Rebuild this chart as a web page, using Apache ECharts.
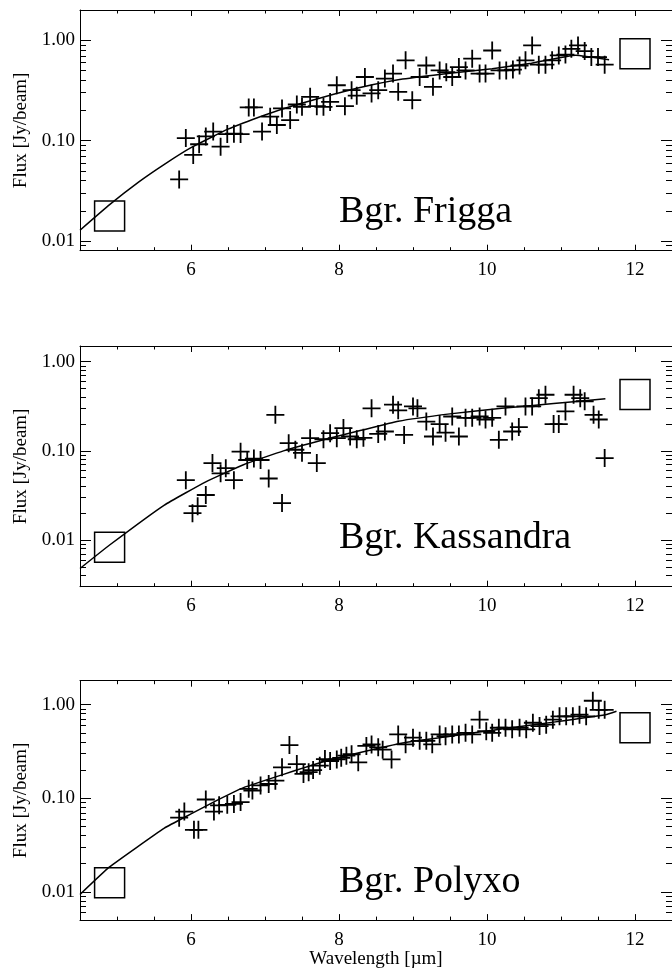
<!DOCTYPE html>
<html>
<head>
<meta charset="utf-8">
<script src="https://cdn.jsdelivr.net/npm/echarts@6/dist/echarts.min.js"></script>
<style>
html,body{margin:0;padding:0;background:#fff;}
#chart{width:672px;height:970px;}
</style>
</head>
<body>
<div id="chart"></div>
<script>
// ---------- DATA ----------
const xMajorTicks = [6, 8, 10, 12];
const xMinorTicks = [5, 5.5, 6.5, 7, 7.5, 8.5, 9, 9.5, 10.5, 11, 11.5];
const yMajorTicks = [0.01, 0.1, 1];
const yMinorTicks = [0.002,0.003,0.004,0.005,0.006,0.007,0.008,0.009,
                     0.02,0.03,0.04,0.05,0.06,0.07,0.08,0.09,
                     0.2,0.3,0.4,0.5,0.6,0.7,0.8,0.9];

const panelNames = ['Bgr. Frigga', 'Bgr. Kassandra', 'Bgr. Polyxo'];

// Bgr. Frigga
const friggaX = [5.84,5.93,6.03,6.11,6.20,6.30,6.40,6.49,6.58,6.67,6.78,6.85,6.96,7.07,7.16,7.23,7.34,7.43,7.50,7.61,7.70,7.79,7.88,7.97,8.08,8.17,8.24,8.35,8.44,8.53,8.62,8.73,8.80,8.90,8.99,9.09,9.18,9.27,9.36,9.45,9.53,9.62,9.71,9.80,9.90,9.98,10.07,10.17,10.26,10.35,10.44,10.52,10.61,10.70,10.79,10.88,10.97,11.06,11.14,11.23,11.32,11.41,11.50,11.59];
const friggaY = [0.041,0.106,0.072,0.092,0.110,0.123,0.087,0.116,0.117,0.116,0.214,0.214,0.123,0.173,0.143,0.209,0.160,0.229,0.217,0.273,0.220,0.217,0.243,0.356,0.220,0.318,0.280,0.430,0.295,0.318,0.415,0.465,0.306,0.630,0.253,0.430,0.560,0.343,0.500,0.480,0.430,0.540,0.500,0.655,0.465,0.465,0.790,0.500,0.500,0.510,0.560,0.630,0.887,0.570,0.570,0.630,0.705,0.720,0.820,0.887,0.780,0.680,0.680,0.570];
const friggaModelX = [4.5,4.9,5.3,5.64,6.0,6.5,7.0,7.4,7.88,8.3,8.86,9.5,10.07,10.6,11.2,11.65];
const friggaModelY = [0.0128,0.023,0.039,0.058,0.085,0.13,0.18,0.225,0.283,0.34,0.41,0.47,0.52,0.59,0.71,0.64];
const friggaPhotX = [4.9, 12.0];
const friggaPhotY = [0.0177, 0.733];

// Bgr. Kassandra
const kassandraX = [5.93,6.02,6.09,6.20,6.29,6.40,6.47,6.58,6.67,6.76,6.85,6.94,7.05,7.14,7.23,7.32,7.41,7.50,7.61,7.70,7.79,7.88,7.97,8.06,8.15,8.24,8.33,8.44,8.53,8.62,8.73,8.80,8.88,9.00,9.06,9.18,9.27,9.36,9.44,9.53,9.62,9.71,9.80,9.90,9.98,10.07,10.16,10.25,10.34,10.43,10.52,10.61,10.70,10.79,10.90,10.97,11.06,11.17,11.26,11.32,11.44,11.51,11.59];
const kassandraY = [0.047,0.020,0.024,0.032,0.073,0.056,0.064,0.047,0.098,0.079,0.082,0.079,0.049,0.254,0.026,0.122,0.103,0.095,0.139,0.073,0.135,0.158,0.139,0.180,0.145,0.135,0.140,0.300,0.155,0.165,0.330,0.285,0.151,0.315,0.300,0.213,0.145,0.200,0.160,0.243,0.145,0.235,0.235,0.243,0.225,0.235,0.133,0.315,0.165,0.185,0.315,0.315,0.390,0.426,0.200,0.200,0.277,0.426,0.390,0.360,0.254,0.225,0.083];
const kassandraModelX = [4.5,4.9,5.64,6.2,6.71,7.25,7.79,8.3,8.8,9.5,10.2,10.9,11.6];
const kassandraModelY = [0.0048,0.0088,0.0247,0.045,0.07,0.10,0.133,0.17,0.215,0.26,0.30,0.34,0.384];
const kassandraPhotX = [4.9, 12.0];
const kassandraPhotY = [0.0083, 0.43];

// Bgr. Polyxo
const polyxoX = [5.84,5.91,6.04,6.10,6.20,6.31,6.38,6.49,6.58,6.67,6.78,6.83,6.94,7.05,7.14,7.23,7.33,7.43,7.52,7.59,7.65,7.74,7.81,7.88,7.97,8.03,8.10,8.17,8.26,8.37,8.44,8.53,8.59,8.71,8.80,8.90,9.00,9.09,9.18,9.26,9.36,9.44,9.53,9.62,9.71,9.80,9.90,9.99,10.07,10.16,10.25,10.34,10.44,10.53,10.62,10.71,10.80,10.89,10.98,11.07,11.16,11.25,11.34,11.43,11.51,11.59];
const polyxoY = [0.062,0.072,0.046,0.046,0.097,0.072,0.084,0.085,0.087,0.091,0.126,0.121,0.137,0.142,0.154,0.214,0.370,0.232,0.182,0.190,0.200,0.223,0.262,0.250,0.260,0.270,0.285,0.295,0.242,0.362,0.375,0.350,0.330,0.260,0.480,0.377,0.444,0.410,0.410,0.377,0.480,0.460,0.480,0.480,0.500,0.480,0.690,0.520,0.500,0.566,0.566,0.545,0.566,0.545,0.640,0.590,0.610,0.690,0.750,0.750,0.750,0.780,0.750,1.100,0.880,0.880];
const polyxoModelX = [4.5,4.9,5.64,6.0,6.35,6.71,7.25,7.79,8.3,8.86,9.5,10.2,10.9,11.6,11.75];
const polyxoModelY = [0.0094,0.0185,0.048,0.068,0.095,0.13,0.18,0.245,0.31,0.39,0.46,0.55,0.65,0.78,0.85];
const polyxoPhotX = [4.9, 12.0];
const polyxoPhotY = [0.0125, 0.567];

// ---------- CHART ----------
const FONT = 'Liberation Serif';
const zip = (a, b) => a.map((v, i) => [v, b[i]]);
const panels = [
  {x: friggaX, y: friggaY, mx: friggaModelX, my: friggaModelY, px: friggaPhotX, py: friggaPhotY, ymin: 0.008, ymax: 2, top: 10, h: 240.7, labelTop: 193},
  {x: kassandraX, y: kassandraY, mx: kassandraModelX, my: kassandraModelY, px: kassandraPhotX, py: kassandraPhotY, ymin: 0.003, ymax: 1.5, top: 346, h: 240.7, labelTop: 519},
  {x: polyxoX, y: polyxoY, mx: polyxoModelX, my: polyxoModelY, px: polyxoPhotX, py: polyxoPhotY, ymin: 0.005, ymax: 1.8, top: 680.7, h: 241, labelTop: 863}
];

const crossPath = 'path://M9,0h2v9h9v2h-9v9h-2v-9h-9v-2h9z';
const grid = [], xAxis = [], yAxis = [], series = [], graphic = [];
const blackLine = {color: '#000', width: 1};

panels.forEach((p, i) => {
  grid.push({left: 80, width: 596, top: p.top, height: p.h});
  const xBase = {type: 'value', gridIndex: i, min: 4.5, max: 12.5, splitLine: {show: false}};
  const xIdx = xAxis.length;
  xAxis.push(Object.assign({}, xBase, {
    position: 'bottom',
    axisLine: {show: true, onZero: false, lineStyle: blackLine},
    axisTick: {show: true, inside: true, length: 6, customValues: xMajorTicks, lineStyle: blackLine},
    axisLabel: {show: true, customValues: xMajorTicks, formatter: v => String(v), fontFamily: FONT, fontSize: 19, color: '#000', margin: 10},
    name: i === 2 ? 'Wavelength [µm]' : '',
    nameLocation: 'middle', nameGap: 29,
    nameTextStyle: {fontFamily: FONT, fontSize: 19, color: '#000'}
  }));
  xAxis.push(Object.assign({}, xBase, {
    position: 'bottom', axisLine: {show: false, onZero: false},
    axisTick: {show: true, inside: true, length: 3.5, customValues: xMinorTicks, lineStyle: blackLine},
    axisLabel: {show: false}
  }));
  xAxis.push(Object.assign({}, xBase, {
    position: 'top',
    axisLine: {show: true, onZero: false, lineStyle: blackLine},
    axisTick: {show: true, inside: true, length: 6, customValues: xMajorTicks, lineStyle: blackLine},
    axisLabel: {show: false}
  }));
  xAxis.push(Object.assign({}, xBase, {
    position: 'top', axisLine: {show: false, onZero: false},
    axisTick: {show: true, inside: true, length: 3.5, customValues: xMinorTicks, lineStyle: blackLine},
    axisLabel: {show: false}
  }));

  const inR = v => v > p.ymin * 1.0001 && v < p.ymax * 0.9999;
  const yMaj = yMajorTicks.filter(inR), yMin = yMinorTicks.filter(inR);
  const yBase = {type: 'log', logBase: 10, gridIndex: i, min: p.ymin, max: p.ymax, splitLine: {show: false}};
  const yIdx = yAxis.length;
  yAxis.push(Object.assign({}, yBase, {
    position: 'left',
    axisLine: {show: true, onZero: false, lineStyle: blackLine},
    axisTick: {show: true, inside: true, length: 11, customValues: yMaj, lineStyle: blackLine},
    axisLabel: {show: true, customValues: yMaj, formatter: v => Number(v).toFixed(2), fontFamily: FONT, fontSize: 19, color: '#000', margin: 5},
    name: 'Flux [Jy/beam]', nameLocation: 'middle', nameGap: 46,
    nameTextStyle: {fontFamily: FONT, fontSize: 19, color: '#000'}
  }));
  yAxis.push(Object.assign({}, yBase, {
    position: 'left', axisLine: {show: false, onZero: false},
    axisTick: {show: true, inside: true, length: 6, customValues: yMin, lineStyle: blackLine},
    axisLabel: {show: false}
  }));
  yAxis.push(Object.assign({}, yBase, {
    position: 'right',
    axisLine: {show: true, onZero: false, lineStyle: blackLine},
    axisTick: {show: true, inside: true, length: 11, customValues: yMaj, lineStyle: blackLine},
    axisLabel: {show: false}
  }));
  yAxis.push(Object.assign({}, yBase, {
    position: 'right', axisLine: {show: false, onZero: false},
    axisTick: {show: true, inside: true, length: 6, customValues: yMin, lineStyle: blackLine},
    axisLabel: {show: false}
  }));

  series.push({
    type: 'line', xAxisIndex: xIdx, yAxisIndex: yIdx, data: zip(p.mx, p.my),
    smooth: 0.12, showSymbol: false, symbol: 'none', lineStyle: {color: '#000', width: 1.5}, z: 3
  });
  series.push({
    type: 'scatter', xAxisIndex: xIdx, yAxisIndex: yIdx, data: zip(p.x, p.y),
    symbol: crossPath, symbolSize: 18, itemStyle: {color: '#000', opacity: 1}, z: 2
  });
  series.push({
    type: 'scatter', xAxisIndex: xIdx, yAxisIndex: yIdx, data: zip(p.px, p.py),
    symbol: 'rect', symbolSize: 30,
    itemStyle: {color: 'rgba(0,0,0,0)', borderColor: '#000', borderWidth: 1.5, opacity: 1}, z: 4
  });

  graphic.push({
    type: 'text', left: 339, top: p.labelTop,
    style: {text: panelNames[i], font: '38px "Liberation Serif"', fill: '#000'}
  });
});

const chart = echarts.init(document.getElementById('chart'), null, {renderer: 'canvas'});
chart.setOption({
  animation: false,
  backgroundColor: '#fff',
  grid, xAxis, yAxis, series, graphic
});
</script>
</body>
</html>
